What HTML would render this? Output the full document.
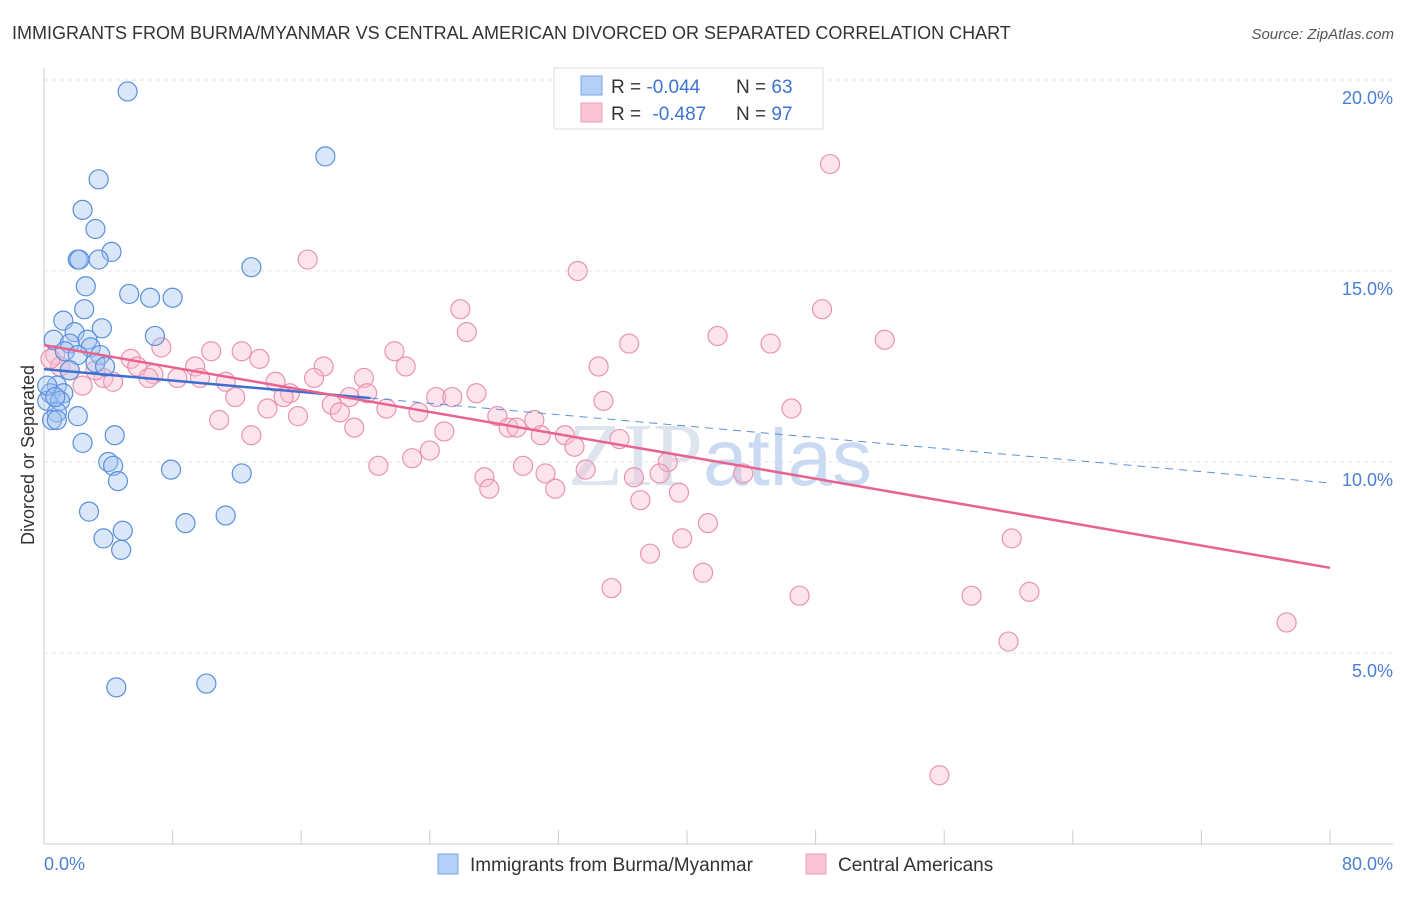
<!DOCTYPE html>
<html><head><meta charset="utf-8"><style>
body{margin:0;background:#fff;font-family:"Liberation Sans",sans-serif}
</style></head><body>
<svg width="1406" height="892" viewBox="0 0 1406 892" xmlns="http://www.w3.org/2000/svg">
<text x="12" y="39" font-size="18" fill="#333">IMMIGRANTS FROM BURMA/MYANMAR VS CENTRAL AMERICAN DIVORCED OR SEPARATED CORRELATION CHART</text>
<text x="1394" y="39" font-size="15" fill="#555" font-style="italic" text-anchor="end">Source: ZipAtlas.com</text>
<g id="grid"></g>
<text x="720" y="485" font-size="90" fill="#dde4ee" text-anchor="middle" font-family="Liberation Serif,serif">ZIP<tspan fill="#c9daf2" font-family="Liberation Sans,sans-serif" font-size="80">atlas</tspan></text>
<g id="axes"></g>
<g id="pts"></g>
<g id="trend"></g>
<text transform="translate(34,455) rotate(-90)" font-size="18" fill="#333" text-anchor="middle">Divorced or Separated</text>
<text x="44" y="870" font-size="18" fill="#4a7fd4">0.0%</text>
<text x="1393" y="870" font-size="18" fill="#4a7fd4" text-anchor="end">80.0%</text>
<g>
<rect x="554" y="68" width="269" height="61" fill="#fff" stroke="#ddd"/>
<rect x="581" y="76" width="21" height="19" fill="#b5d0f5" stroke="#7aa6e6"/>
<rect x="581" y="103" width="21" height="19" fill="#fac6d6" stroke="#ee9ab5"/>
<text x="611" y="93" font-size="19" fill="#333">R = <tspan fill="#3c73d1">-0.044</tspan></text>
<text x="736" y="93" font-size="19" fill="#333">N = <tspan fill="#3c73d1">63</tspan></text>
<text x="611" y="120" font-size="19" fill="#333">R = <tspan fill="#3c73d1" dx="6">-0.487</tspan></text>
<text x="736" y="120" font-size="19" fill="#333">N = <tspan fill="#3c73d1">97</tspan></text>
</g>
<g>
<rect x="438" y="854" width="20" height="20" fill="#b5d0f5" stroke="#7aa6e6"/>
<text x="470" y="871" font-size="19" fill="#333">Immigrants from Burma/Myanmar</text>
<rect x="806" y="854" width="20" height="20" fill="#fac6d6" stroke="#ee9ab5"/>
<text x="838" y="871" font-size="19" fill="#333">Central Americans</text>
</g>
</svg>
<script>
const yTicks=[5,10,15,20];
const yTickLabels=["5.0%","10.0%","15.0%","20.0%"];
const xTicks=[0,8,16,24,32,40,48,56,64,72,80];
const blueX=[5.2,17.5,3.4,2.4,3.2,4.2,2.1,2.2,3.4,12.9,2.6,5.3,6.6,8.0,2.5,1.2,3.6,6.9,1.9,0.6,2.7,1.6,2.9,1.3,3.5,2.1,3.2,3.8,1.6,0.8,0.4,1.2,0.2,1.0,0.8,2.1,0.5,0.8,4.4,2.4,4.0,4.3,7.9,12.3,4.6,2.8,8.8,11.3,4.9,3.7,4.8,4.5,10.1,0.2,0.7];
const blueY=[19.7,18.0,17.4,16.6,16.1,15.5,15.3,15.3,15.3,15.1,14.6,14.4,14.3,14.3,14.0,13.7,13.5,13.3,13.4,13.2,13.2,13.1,13.0,12.9,12.8,12.8,12.6,12.5,12.4,12.0,11.8,11.8,11.6,11.6,11.3,11.2,11.1,11.1,10.7,10.5,10.0,9.9,9.8,9.7,9.5,8.7,8.4,8.6,8.2,8.0,7.7,4.1,4.2,12.0,11.7];
const pinkX=[48.9,16.4,33.2,25.9,48.4,26.3,41.9,52.3,36.4,45.2,7.3,10.4,12.3,21.8,0.7,13.4,5.4,17.4,22.5,34.5,9.4,5.8,1.0,6.8,16.8,19.9,3.7,6.5,8.3,9.7,11.3,14.4,4.3,2.4,15.3,14.9,11.9,20.1,19.0,24.4,25.4,26.9,34.8,17.9,21.3,13.9,18.4,23.3,15.8,46.5,28.2,30.5,10.9,28.9,29.4,19.3,24.9,30.9,12.9,32.4,35.8,33.0,24.0,22.9,38.8,20.8,29.8,33.7,31.2,38.3,36.7,43.5,27.4,27.7,31.8,39.5,37.1,41.3,39.7,60.2,37.7,41.0,35.3,47.0,57.7,61.3,77.3,60.0,55.7,0.4,1.6,3.2];
const pinkY=[17.8,15.3,15.0,14.0,14.0,13.4,13.3,13.2,13.1,13.1,13.0,12.9,12.9,12.9,12.8,12.7,12.7,12.5,12.5,12.5,12.5,12.5,12.5,12.3,12.2,12.2,12.2,12.2,12.2,12.2,12.1,12.1,12.1,12.0,11.8,11.7,11.7,11.8,11.7,11.7,11.7,11.8,11.6,11.5,11.4,11.4,11.3,11.3,11.2,11.4,11.2,11.1,11.1,10.9,10.9,10.9,10.8,10.7,10.7,10.7,10.6,10.4,10.3,10.1,10.0,9.9,9.9,9.8,9.7,9.7,9.6,9.7,9.6,9.3,9.3,9.2,9.0,8.4,8.0,8.0,7.6,7.1,6.7,6.5,6.5,6.6,5.8,5.3,1.8,12.7,12.4,12.4];
const blueTrend=[12.43,9.45];
const blueSolidEnd=20.3;
const pinkTrend=[13.06,7.23];
const NS="http://www.w3.org/2000/svg";
const X=v=>44+v/80*1286, Y=v=>844-v*38.2;
function mk(t,a,p){const e=document.createElementNS(NS,t);for(const k in a)e.setAttribute(k,a[k]);p.appendChild(e);return e;}
const grid=document.getElementById('grid'),axes=document.getElementById('axes');
yTicks.forEach((t,i)=>{
 const l=mk('line',{x1:44,x2:1393,y1:Y(t),y2:Y(t),stroke:'#e4e4e4','stroke-dasharray':'4,4'},grid);
 
 
 const tx=mk('text',{x:1393,y:Y(t)+24,'font-size':18,fill:'#4a7fd4','text-anchor':'end'},axes);
 tx.textContent=yTickLabels[i];
 
 
});
mk('line',{x1:44,x2:44,y1:68,y2:844,stroke:'#ccc'},axes);
mk('line',{x1:44,x2:1393,y1:844,y2:844,stroke:'#ccc'},axes);
xTicks.forEach(t=>{const l=mk('line',{x1:X(t),x2:X(t),y1:830,y2:844,stroke:'#ccc'},axes);
 
 });
const pts=document.getElementById('pts');
pinkX.forEach((x,i)=>{const c=mk('circle',{cx:X(x),cy:Y(pinkY[i]),r:9.5,fill:'rgba(248,188,207,0.4)',stroke:'#ea93b0','stroke-width':1.2},pts);
 
 });
blueX.forEach((x,i)=>{const c=mk('circle',{cx:X(x),cy:Y(blueY[i]),r:9.5,fill:'rgba(160,196,240,0.4)',stroke:'#5a8fdc','stroke-width':1.2},pts);
 
 });
const tr=document.getElementById('trend');
const by=v=>blueTrend[0]+(blueTrend[1]-blueTrend[0])*v/80;
let l1=mk('line',{x1:X(0),y1:Y(by(0)),x2:X(blueSolidEnd),y2:Y(by(blueSolidEnd)),stroke:'#3d6fd0','stroke-width':2.5},tr);


let l2=mk('line',{x1:X(blueSolidEnd),y1:Y(by(blueSolidEnd)),x2:X(80),y2:Y(by(80)),stroke:'#5a8fdc','stroke-width':1,'stroke-dasharray':'8,6'},tr);


let l3=mk('line',{x1:X(0),y1:Y(pinkTrend[0]),x2:X(80),y2:Y(pinkTrend[1]),stroke:'#e8638f','stroke-width':2.5},tr);


</script>
</body></html>
